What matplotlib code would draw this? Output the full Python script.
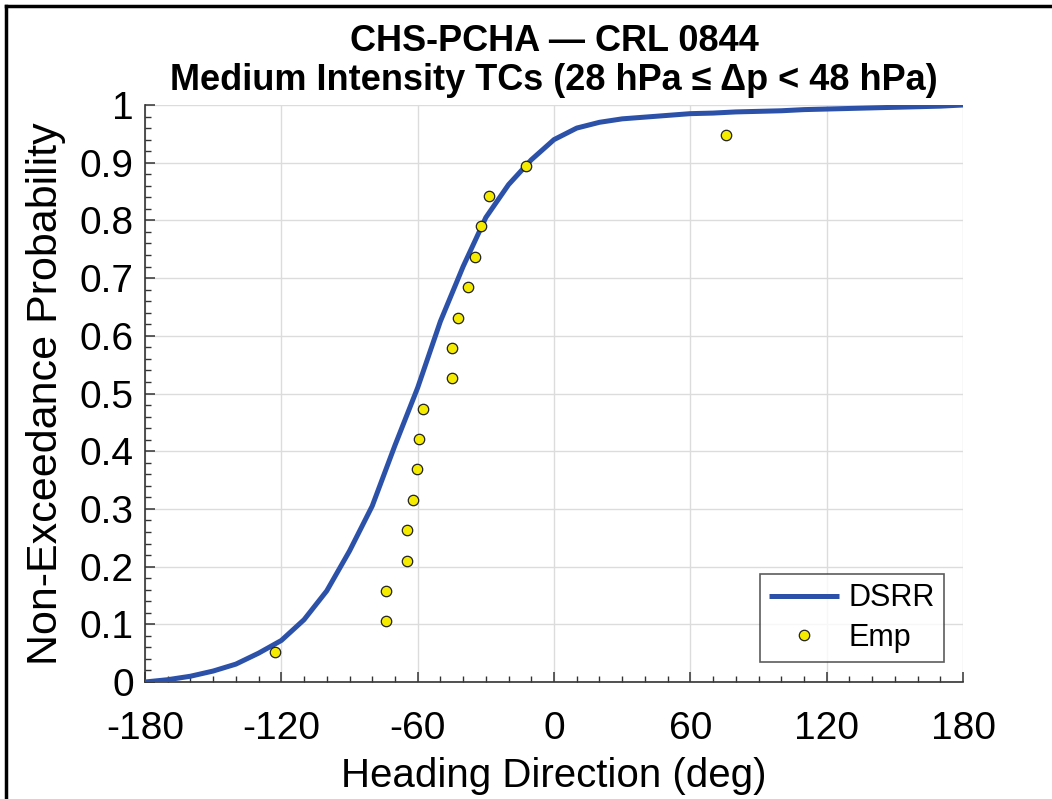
import matplotlib
matplotlib.use("Agg")
import matplotlib.pyplot as plt
from matplotlib.ticker import MultipleLocator, FuncFormatter
from matplotlib.lines import Line2D

plt.rcParams['font.family'] = ['Liberation Sans', 'DejaVu Sans']

# DSRR fitted CDF
dsrr_x = [-180, -170, -160, -150, -140, -130, -120, -110, -100, -90, -80, -70, -60,
          -50, -40, -30, -20, -10, 0, 10, 20, 30, 40, 50, 60, 70, 80, 90, 100,
          110, 120, 130, 140, 150, 160, 170, 180]
dsrr_p = [0.0, 0.004, 0.010, 0.019, 0.031, 0.050, 0.072, 0.108, 0.158, 0.227, 0.305,
          0.410, 0.510, 0.625, 0.720, 0.805, 0.862, 0.905, 0.940, 0.960, 0.970, 0.976,
          0.979, 0.982, 0.985, 0.986, 0.988, 0.989, 0.990, 0.992, 0.993, 0.994, 0.995,
          0.996, 0.997, 0.998, 1.0]

# Empirical points
emp_x = [-122.8, -73.9, -73.9, -64.7, -64.7, -62.2, -60.2, -59.3, -57.6, -45.0,
         -44.9, -42.2, -37.7, -34.8, -32.2, -28.7, -12.3, 75.7]
emp_p = [i / 19 for i in range(1, 19)]

xticks = [-180, -120, -60, 0, 60, 120, 180]
yticks = [0, 0.1, 0.2, 0.3, 0.4, 0.5, 0.6, 0.7, 0.8, 0.9, 1.0]

fig = plt.figure(figsize=(10.52, 7.99), dpi=100)
ax = fig.add_axes([145/1052, 1-682/799, (963-145)/1052, (682-105)/799])

ax.plot(dsrr_x, dsrr_p, color='#2B51A8', lw=3.6, label='DSRR', zorder=3,
        solid_capstyle='butt', solid_joinstyle='round')
ax.plot(emp_x, emp_p, linestyle='none', marker='o', markersize=7.5,
        markerfacecolor='#F5EB00', markeredgecolor='#222222', markeredgewidth=0.9,
        label='Emp', zorder=4)

ax.set_xlim(-180, 180)
ax.set_ylim(0, 1)
ax.set_xticks(xticks)
ax.set_yticks(yticks)
ax.xaxis.set_minor_locator(MultipleLocator(10))
ax.yaxis.set_minor_locator(MultipleLocator(0.02))
ax.yaxis.set_major_formatter(FuncFormatter(lambda v, p: f"{v:g}"))
ax.xaxis.set_major_formatter(FuncFormatter(lambda v, p: f"{v:g}"))

ax.grid(True, which='major', color='#DCDCDC', lw=1.0, zorder=0)
ax.set_axisbelow(True)
for s in ['top', 'right']:
    ax.spines[s].set_visible(False)
for s in ['left', 'bottom']:
    ax.spines[s].set_color('#333333')
    ax.spines[s].set_linewidth(1.2)

ax.tick_params(which='both', direction='in', colors='#333333', labelcolor='black',
               top=False, right=False)
ax.tick_params(which='major', length=7, width=1.1, labelsize=28)
ax.tick_params(axis='x', which='major', pad=21)
ax.tick_params(axis='y', which='major', pad=8)
ax.tick_params(which='minor', length=4, width=1.0)

ax.set_xlabel('Heading Direction (deg)', fontsize=29, labelpad=7)
ax.set_ylabel('Non-Exceedance Probability', fontsize=31, labelpad=10)
ax.set_title('CHS-PCHA \u2014 CRL 0844\nMedium Intensity TCs (28 hPa \u2264 \u0394p < 48 hPa)',
             fontsize=26, fontweight='bold', pad=11, linespacing=1.15)

leg = ax.legend(loc='lower right', bbox_to_anchor=(0.977, 0.035), borderaxespad=0,
                fontsize=22, frameon=True, fancybox=False, edgecolor='#333333',
                handlelength=2.3, handletextpad=0.3, borderpad=0.3, labelspacing=0.3)
leg.get_frame().set_linewidth(1.2)

# outer frame (top and left)
fig.add_artist(Line2D([6/1052, 1.0], [1-6/799, 1-6/799], transform=fig.transFigure,
                      color='black', lw=2.5))
fig.add_artist(Line2D([6/1052, 6/1052], [0.0, 1-6/799], transform=fig.transFigure,
                      color='black', lw=2.5))

fig.savefig('out.png', dpi=100)
